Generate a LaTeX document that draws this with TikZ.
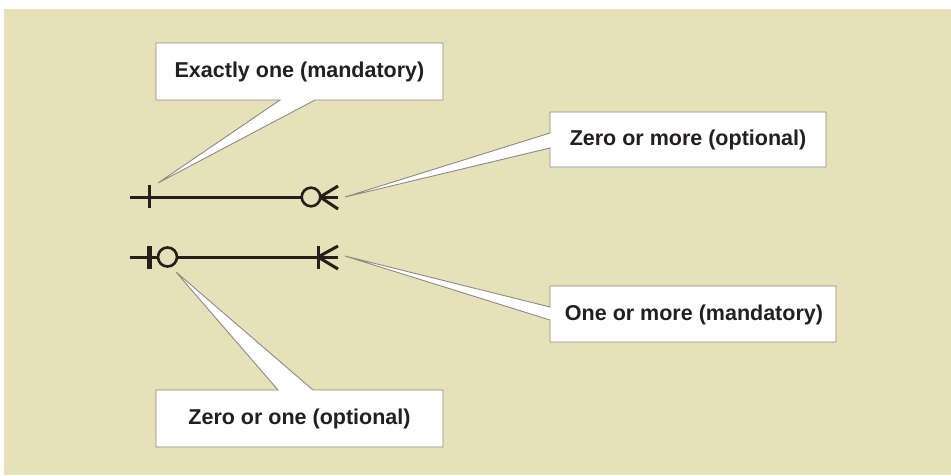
\documentclass[tikz,border=0pt]{standalone}
\usepackage{fontspec}
\setmainfont{Liberation Sans}
\definecolor{panel}{RGB}{230,225,185}
\definecolor{boxline}{RGB}{138,138,132}
\definecolor{linedark}{RGB}{38,30,24}
\definecolor{labeltext}{RGB}{35,31,32}
\begin{document}
\begin{tikzpicture}[x=1pt,y=-1pt,
  labeltxt/.style={font=\fontsize{21.5}{24}\selectfont\bfseries, text=labeltext, inner sep=0pt},
  callout/.style={fill=white, draw=boxline, line width=0.9pt, line join=miter},
  relline/.style={draw=linedark, line width=3pt, line cap=butt},
  tickthin/.style={draw=linedark, line width=3pt},
  tickthick/.style={draw=linedark, line width=5pt},
  ringmark/.style={draw=linedark, line width=2.6pt, fill=panel}]
  % canvas and panel
  \useasboundingbox (0,0) rectangle (951,475);
  \fill[white] (0,0) rectangle (951,475);
  \fill[panel] (4,9) rectangle (951,475);

  % relationship ends
  \coordinate (a1) at (130,197);
  \coordinate (a2) at (338,197);
  \coordinate (b1) at (130,257);
  \coordinate (b2) at (338,257);

  % line 1: exactly one ... zero or more
  \draw[relline] (a1) -- (a2);
  \draw[tickthin] (149,185) -- (149,208);
  \coordinate (f1) at (320,197);
  \draw[relline] (f1) -- (338,186);
  \draw[relline] (f1) -- (338,209);
  \draw[ringmark] (311,197) circle[radius=9.3];

  % line 2: zero or one ... one or more
  \draw[relline] (b1) -- (b2);
  \draw[tickthick] (149,246) -- (149,269);
  \draw[ringmark] (167.5,257) circle[radius=9.5];
  \coordinate (f2) at (318,257);
  \draw[tickthin] (318,246) -- (318,269);
  \draw[relline] (f2) -- (338,246);
  \draw[relline] (f2) -- (338,269);

  % pointer tips
  \coordinate (p1) at (158,183);
  \coordinate (p2) at (345,197);
  \coordinate (p3) at (345,256);
  \coordinate (p4) at (176,272);

  % callouts
  \draw[callout] (156,43) -- (443,43) -- (443,100) -- (315,100) -- (p1) -- (280,100) -- (156,100) -- cycle;
  \draw[callout] (550,112) -- (826,112) -- (826,167) -- (550,167) -- (550,148) -- (p2) -- (550,133) -- cycle;
  \draw[callout] (550,286) -- (836,286) -- (836,342) -- (550,342) -- (550,320) -- (p3) -- (550,307) -- cycle;
  \draw[callout] (156,390) -- (278,390) -- (p4) -- (313,390) -- (443,390) -- (443,447) -- (156,447) -- cycle;

  % labels
  \node[labeltxt] (exactone) at (299.5,72) {Exactly one (mandatory)};
  \node[labeltxt] (zeromore) at (688,140) {Zero or more (optional)};
  \node[labeltxt] (onemore) at (694,314.5) {One or more (mandatory)};
  \node[labeltxt] (zeroone) at (299.5,419) {Zero or one (optional)};
\end{tikzpicture}
\end{document}
